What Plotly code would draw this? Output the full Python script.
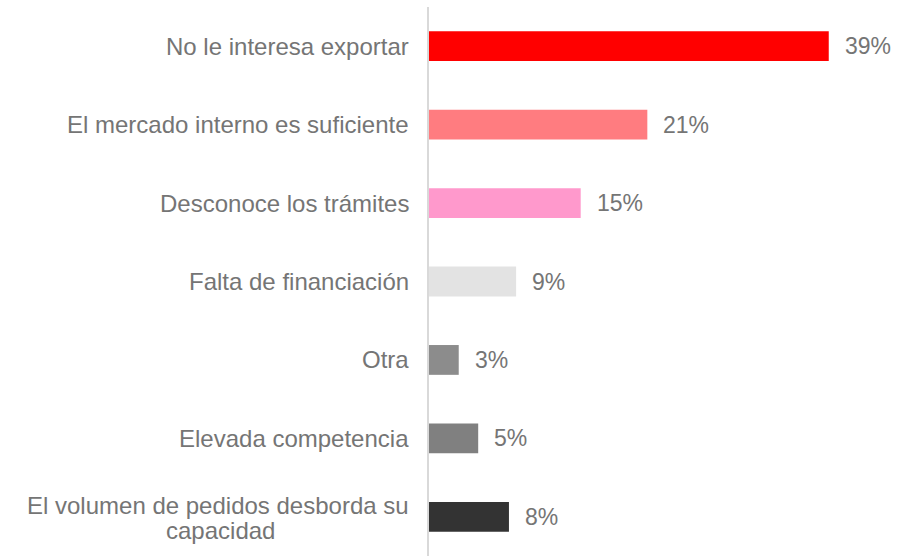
import plotly.graph_objects as go

categories = [
    "No le interesa exportar",
    "El mercado interno es suficiente",
    "Desconoce los trámites",
    "Falta de financiación",
    "Otra",
    "Elevada competencia",
    "El volumen de pedidos desborda su capacidad",
]
# category label lines as drawn (last one wraps onto two lines)
label_lines = [
    ["No le interesa exportar"],
    ["El mercado interno es suficiente"],
    ["Desconoce los trámites"],
    ["Falta de financiación"],
    ["Otra"],
    ["Elevada competencia"],
    ["El volumen de pedidos desborda su", "capacidad"],
]
values = [39.0, 21.3, 14.8, 8.5, 2.9, 4.8, 7.8]
value_labels = ["39%", "21%", "15%", "9%", "3%", "5%", "8%"]
colors = ["#ff0000", "#ff7c80", "#ff99cc", "#e3e3e3", "#8c8c8c", "#808080", "#333333"]

font_family = "Liberation Sans, Arial, sans-serif"
text_color = "#757575"

fig = go.Figure(
    go.Bar(
        x=values,
        y=categories,
        orientation="h",
        marker=dict(color=colors, line=dict(width=0)),
        width=0.38,
        hoverinfo="skip",
    )
)

# value labels
for v, lab, cat in zip(values, value_labels, categories):
    fig.add_annotation(
        x=v, y=cat, text=lab, showarrow=False,
        xanchor="left", yanchor="middle", xshift=14,
        font=dict(family=font_family, size=23, color=text_color),
    )

# category labels (centered multi-line like the original)
for cat, lines in zip(categories, label_lines):
    if len(lines) == 1:
        fig.add_annotation(
            xref="paper", x=0, y=cat, text=lines[0], showarrow=False,
            xanchor="right", yanchor="middle", xshift=-18,
            font=dict(family=font_family, size=24, color=text_color),
        )
    else:
        fig.add_annotation(
            xref="paper", x=0, y=cat, text=lines[0], showarrow=False,
            xanchor="right", yanchor="middle", xshift=-18, yshift=11,
            font=dict(family=font_family, size=24, color=text_color),
        )
        fig.add_annotation(
            xref="paper", x=0, y=cat, text=lines[1], showarrow=False,
            xanchor="center", yanchor="middle", xshift=-209, yshift=-14,
            font=dict(family=font_family, size=24, color=text_color),
        )

fig.update_layout(
    width=920, height=556,
    margin=dict(l=429, r=40, t=7, b=0, autoexpand=False),
    paper_bgcolor="white", plot_bgcolor="white",
    showlegend=False,
    font=dict(family=font_family, size=23, color=text_color),
    xaxis=dict(range=[0, 44], visible=False, showgrid=False, zeroline=False,
               automargin=False),
    yaxis=dict(
        autorange="reversed",
        showgrid=False, zeroline=False,
        showline=True, linecolor="#d9d9d9", linewidth=2,
        ticks="", showticklabels=False, automargin=False,
    ),
)

fig.write_html(
    "out.html",
    config={"displayModeBar": False},
    post_script="document.body.style.margin='0';",
)
